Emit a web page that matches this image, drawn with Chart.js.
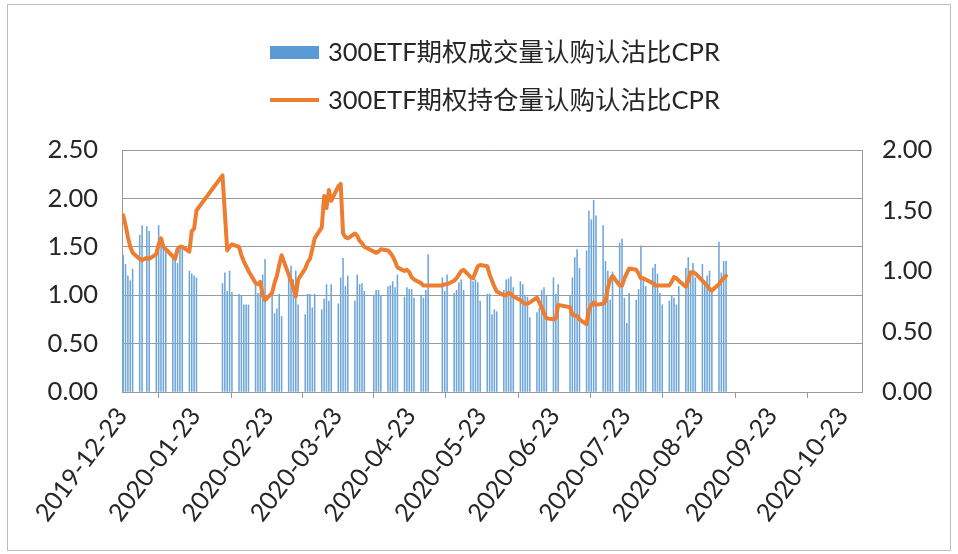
<!DOCTYPE html>
<html><head><meta charset="utf-8">
<script src="https://cdn.jsdelivr.net/npm/chart.js@4/dist/chart.umd.min.js"></script>
<style>html,body{margin:0;padding:0;background:#fff}#wrap{width:958px;height:554px;position:relative}</style>
</head><body><div id="wrap"><canvas id="c" width="958" height="554"></canvas></div>
<script>
const seriesNames = ['300ETF期权成交量认购认沽比CPR', '300ETF期权持仓量认购认沽比CPR'];
const tickLabels = ['2019-12-23','2020-01-23','2020-02-23','2020-03-23','2020-04-23','2020-05-23','2020-06-23','2020-07-23','2020-08-23','2020-09-23','2020-10-23'];
const axisEnd = '2020-10-31';
const dates = [
'2019-12-23','2019-12-24','2019-12-25','2019-12-26','2019-12-27','2019-12-30','2019-12-31',
'2020-01-02','2020-01-03','2020-01-06','2020-01-07','2020-01-08','2020-01-09','2020-01-10','2020-01-13','2020-01-14','2020-01-15','2020-01-16','2020-01-17','2020-01-20','2020-01-21','2020-01-22','2020-01-23',
'2020-02-03','2020-02-04','2020-02-05','2020-02-06','2020-02-07','2020-02-10','2020-02-11','2020-02-12','2020-02-13','2020-02-14','2020-02-17','2020-02-18','2020-02-19','2020-02-20','2020-02-21','2020-02-24','2020-02-25','2020-02-26','2020-02-27','2020-02-28',
'2020-03-02','2020-03-03','2020-03-04','2020-03-05','2020-03-06','2020-03-09','2020-03-10','2020-03-11','2020-03-12','2020-03-13','2020-03-16','2020-03-17','2020-03-18','2020-03-19','2020-03-20','2020-03-23','2020-03-24','2020-03-25','2020-03-26','2020-03-27','2020-03-30','2020-03-31',
'2020-04-01','2020-04-02','2020-04-03','2020-04-07','2020-04-08','2020-04-09','2020-04-10','2020-04-13','2020-04-14','2020-04-15','2020-04-16','2020-04-17','2020-04-20','2020-04-21','2020-04-22','2020-04-23','2020-04-24','2020-04-27','2020-04-28','2020-04-29','2020-04-30',
'2020-05-06','2020-05-07','2020-05-08','2020-05-11','2020-05-12','2020-05-13','2020-05-14','2020-05-15','2020-05-18','2020-05-19','2020-05-20','2020-05-21','2020-05-22','2020-05-25','2020-05-26','2020-05-27','2020-05-28','2020-05-29',
'2020-06-01','2020-06-02','2020-06-03','2020-06-04','2020-06-05','2020-06-08','2020-06-09','2020-06-10','2020-06-11','2020-06-12','2020-06-15','2020-06-16','2020-06-17','2020-06-18','2020-06-19','2020-06-22','2020-06-23','2020-06-24','2020-06-29','2020-06-30',
'2020-07-01','2020-07-02','2020-07-03','2020-07-06','2020-07-07','2020-07-08','2020-07-09','2020-07-10','2020-07-13','2020-07-14','2020-07-15','2020-07-16','2020-07-17','2020-07-20','2020-07-21','2020-07-22','2020-07-23','2020-07-24','2020-07-27','2020-07-28','2020-07-29','2020-07-30','2020-07-31',
'2020-08-03','2020-08-04','2020-08-05','2020-08-06','2020-08-07','2020-08-10','2020-08-11','2020-08-12','2020-08-13','2020-08-14','2020-08-17','2020-08-18','2020-08-19','2020-08-20','2020-08-21','2020-08-24','2020-08-25','2020-08-26','2020-08-27','2020-08-28','2020-08-31',
'2020-09-01','2020-09-02','2020-09-03'];
const volumeCPR = [
1.41,1.32,1.20,1.15,1.27,1.62,1.72,
1.71,1.66,1.47,1.72,1.60,1.52,1.49,1.38,1.38,1.33,1.49,1.51,1.25,1.22,1.20,1.18,
1.12,1.23,1.04,1.25,1.03,1.01,0.99,0.90,0.90,0.90,1.13,1.02,1.03,1.21,1.37,0.99,0.81,0.86,1.01,0.78,
1.18,1.30,1.16,1.25,0.90,0.80,1.01,1.01,0.87,1.01,0.85,0.96,1.11,0.94,1.11,0.91,1.18,1.38,1.09,1.20,0.94,1.21,
1.11,1.12,1.04,1.00,1.05,1.05,0.99,1.09,1.10,1.14,1.08,1.21,0.98,1.08,1.06,1.06,0.97,1.00,0.97,1.05,1.42,
1.18,1.04,1.21,1.02,1.05,1.13,1.16,1.05,1.17,1.14,1.16,1.13,0.94,1.01,1.01,0.80,0.85,0.83,
1.05,1.16,1.17,1.19,1.08,1.14,1.11,0.99,0.98,0.77,0.82,0.87,1.05,1.08,1.00,1.18,1.01,1.11,0.99,1.18,
1.39,1.47,1.28,1.46,1.87,1.78,1.98,1.82,1.72,1.35,1.25,0.95,1.24,1.54,1.58,0.97,0.71,1.02,0.95,1.06,1.51,1.18,1.09,
1.28,1.32,1.22,1.02,0.90,0.94,0.99,0.97,0.90,1.09,1.28,1.39,1.18,1.33,1.18,1.32,1.13,1.20,1.25,1.05,1.55,
1.23,1.35,1.35];
const openInterestCPR = [
1.46,1.38,1.28,1.20,1.15,1.10,1.09,
1.11,1.10,1.14,1.22,1.27,1.20,1.18,1.12,1.10,1.18,1.20,1.20,1.16,1.33,1.35,1.50,
1.79,1.48,1.17,1.20,1.22,1.20,1.13,1.08,1.04,1.00,0.90,0.89,0.91,0.80,0.76,0.82,0.90,0.96,1.05,1.13,
0.97,0.92,0.86,0.79,0.93,1.02,1.07,1.10,1.18,1.27,1.36,1.62,1.52,1.67,1.58,1.70,1.72,1.31,1.28,1.27,1.31,1.29,
1.25,1.23,1.20,1.16,1.15,1.16,1.18,1.17,1.15,1.12,1.08,1.03,1.00,1.01,0.99,0.95,0.93,0.90,0.88,0.88,0.88,
0.88,0.89,0.89,0.92,0.94,0.97,1.00,1.01,0.95,0.94,0.99,1.04,1.05,1.04,0.97,0.92,0.87,0.83,
0.80,0.80,0.82,0.81,0.79,0.76,0.74,0.73,0.73,0.74,0.78,0.74,0.70,0.65,0.61,0.60,0.61,0.72,0.70,0.64,
0.63,0.63,0.60,0.56,0.68,0.72,0.74,0.72,0.73,0.75,0.86,0.93,0.96,0.88,0.88,0.94,0.98,1.02,1.01,0.98,0.94,0.94,0.93,
0.90,0.88,0.88,0.88,0.88,0.88,0.91,0.95,0.94,0.92,0.87,0.92,0.99,0.99,0.98,0.92,0.90,0.88,0.85,0.84,0.89,
0.92,0.94,0.96];
const leftTicks = [0, 0.5, 1.0, 1.5, 2.0, 2.5];
const rightTicks = [0, 0.5, 1.0, 1.5, 2.0];

const DAY = 86400000;
const origin = Date.UTC(2019, 11, 23);
function dayIndex(s) { const p = s.split('-').map(Number); return (Date.UTC(p[0], p[1]-1, p[2]) - origin) / DAY; }
const tickDays = tickLabels.map(dayIndex);
const FONT = "Lato, 'Noto Sans CJK SC', sans-serif";
const TXT = '#262626';
const GRID = '#9a9a9a';

const barPts = dates.map((d, i) => ({ x: dayIndex(d) + 0.5, y: volumeCPR[i] }));
const linePts = dates.map((d, i) => ({ x: dayIndex(d) + 0.5, y: openInterestCPR[i] }));

const legendAndFrame = {
  id: 'legendAndFrame',
  beforeDraw(chart) {
    const ctx = chart.ctx;
    ctx.save();
    ctx.fillStyle = '#fff';
    ctx.fillRect(0, 0, chart.width, chart.height);
    ctx.restore();
  },
  afterDraw(chart) {
    const ctx = chart.ctx;
    ctx.save();
    ctx.strokeStyle = '#bdbdbd';
    ctx.lineWidth = 1;
    ctx.strokeRect(7.5, 4.5, 943, 546);
    ctx.font = "25.5px " + FONT;
    ctx.textBaseline = 'middle';
    ctx.fillStyle = '#5B9BD5';
    ctx.fillRect(270, 46, 49, 13);
    ctx.fillStyle = TXT;
    ctx.fillText(seriesNames[0], 328, 53);
    ctx.strokeStyle = '#ED7D31';
    ctx.lineWidth = 4;
    ctx.beginPath(); ctx.moveTo(270, 100); ctx.lineTo(319, 100); ctx.stroke();
    ctx.fillText(seriesNames[1], 328, 101);
    ctx.restore();
  }
};

new Chart(document.getElementById('c'), {
  type: 'bar',
  data: {
    datasets: [
      { type: 'line', label: seriesNames[1], data: linePts, yAxisID: 'y1', xAxisID: 'x',
        borderColor: '#ED7D31', backgroundColor: '#ED7D31', borderWidth: 4, pointRadius: 0, tension: 0, order: 0,
        borderJoinStyle: 'round', borderCapStyle: 'round' },
      { type: 'bar', label: seriesNames[0], data: barPts, yAxisID: 'y', xAxisID: 'x',
        backgroundColor: '#6FA6DA', barThickness: 0.9, order: 1 }
    ]
  },
  options: {
    responsive: false, animation: false, devicePixelRatio: 1,
    layout: { padding: { top: 150, left: 0, right: 0, bottom: 0 } },
    plugins: { legend: { display: false }, tooltip: { enabled: false } },
    scales: {
      x: {
        type: 'linear', position: 'bottom', min: 0, max: dayIndex(axisEnd), offset: false,
        afterBuildTicks: s => { s.ticks = tickDays.map(v => ({ value: v })); },
        afterFit: s => { s.height = 162; },
        grid: { drawOnChartArea: false, drawTicks: true, tickLength: 6, color: GRID },
        border: { color: GRID },
        ticks: { autoSkip: false, maxRotation: 53, minRotation: 53, padding: 4, color: TXT,
          font: { family: FONT, size: 25 },
          callback: v => { const i = tickDays.indexOf(v); return i >= 0 ? tickLabels[i] : ''; } }
      },
      y: {
        position: 'left', min: 0, max: 2.5,
        afterBuildTicks: s => { s.ticks = leftTicks.map(v => ({ value: v })); },
        afterFit: s => { s.width = 122; },
        grid: { color: GRID, drawTicks: false },
        border: { color: GRID },
        ticks: { padding: 24, color: TXT, font: { family: FONT, size: 25.5 }, callback: v => v.toFixed(2) }
      },
      y1: {
        position: 'right', min: 0, max: 2.0,
        afterBuildTicks: s => { s.ticks = rightTicks.map(v => ({ value: v })); },
        afterFit: s => { s.width = 96; },
        grid: { drawOnChartArea: false, drawTicks: false },
        border: { color: GRID },
        ticks: { padding: 20, color: TXT, font: { family: FONT, size: 25.5 }, callback: v => v.toFixed(2) }
      }
    }
  },
  plugins: [legendAndFrame]
});
</script></body></html>
